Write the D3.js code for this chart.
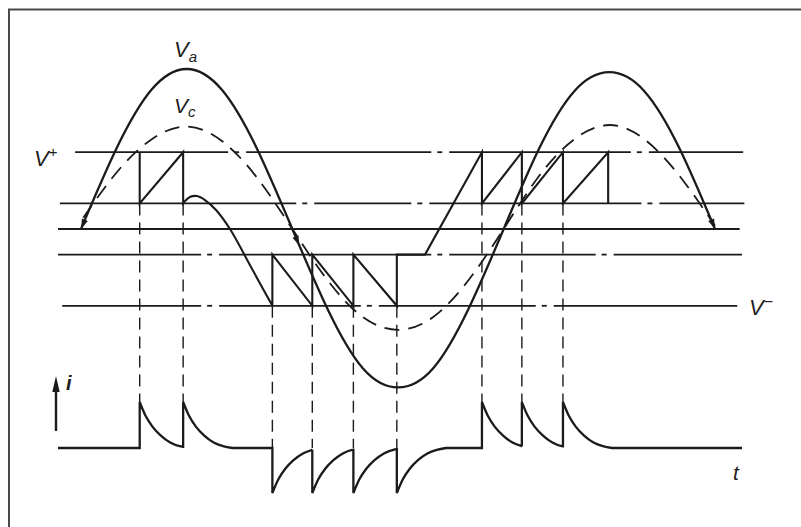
<!DOCTYPE html>
<html>
<head>
<meta charset="utf-8">
<script src="https://cdn.jsdelivr.net/npm/d3@7"></script>
<style>
  html, body { margin: 0; padding: 0; background: #fff; }
  svg { display: block; }
  text { font-family: "Liberation Sans", Arial, sans-serif; font-style: italic; fill: #1e1e1e; }
</style>
</head>
<body>
<svg id="chart" width="801" height="527"></svg>
<script>
// supply phase angle (deg), one sample every 30 deg
const phaseDeg = [0, 30, 60, 90, 120, 150, 180, 210, 240, 270, 300, 330, 360, 390, 420, 450, 480, 510, 540];
// supply voltage Va and capacitor voltage Vc (per unit of Va peak)
const vaValues = [0, 0.5, 0.87, 1, 0.87, 0.5, 0, -0.5, -0.87, -0.99, -0.87, -0.5, 0, 0.5, 0.86, 0.98, 0.86, 0.5, 0];
const vcValues = [0.05, 0.35, 0.56, 0.64, 0.55, 0.32, 0, -0.32, -0.55, -0.63, -0.55, -0.32, 0, 0.33, 0.56, 0.65, 0.56, 0.33, 0.02];

// band levels: V+, upper reset, zero, lower reset, V-
const levelValues = [0.48, 0.16, 0, -0.16, -0.48];

// switching instants (deg)
const upperSwitchA = [50, 87];
const lowerSwitch = [163, 197, 232, 269];
const riseStart = 293;
const upperSwitchB = [341.5, 375.5, 410.5, 449];

// bend of the waveform between the two bands
const bendT = [87, 92.8, 98.8, 105.6, 115, 126.9, 144.8, 163];
const bendV = [0.16, 0.2, 0.206, 0.181, 0.119, 0, -0.238, -0.48];

// current pulses (deg) and the decay shape of one pulse
const posPulses = [50, 87, 341.5, 375.5, 410.5];
const negPulses = [163, 197, 232, 269];
const pulseDt = [0, 5, 11, 18, 26, 34, 42];
const pulseFrac = [1, 0.7, 0.46, 0.27, 0.12, 0.04, 0];

const tStart = -19.6, tEnd = 563;

const ink = '#1b1b1b';
const svg = d3.select('#chart');

const x = d3.scaleLinear().domain([0, 540]).range([81, 715]);
const y = d3.scaleLinear().domain([-1, 1]).range([389, 69]);
const yi = d3.scaleLinear().domain([-1, 0, 1]).range([493, 448, 402]);

// frame
svg.append('path')
  .attr('d', 'M9,527V9.5H801')
  .attr('fill', 'none')
  .attr('stroke', '#4a4a4a')
  .attr('stroke-width', 2);

// band lines, broken by chain dots
const lineExtent = [[-5, 564], [-18, 565], [-19.6, 561], [-19.6, 563], [-16, 559]];
const lineBreaks = [[133, 306, 476], [191, 289, 485], [], [110, 306, 446], [110, 246, 395]];

levelValues.forEach((v, k) => {
  const x0 = x(lineExtent[k][0]), x1 = x(lineExtent[k][1]);
  const br = lineBreaks[k].map(x);
  let segs = [];
  let cur = x0;
  br.forEach(b => {
    segs.push([cur, b - 9]);
    segs.push([b - 3, b + 2]);
    cur = b + 9;
  });
  segs.push([cur, x1]);
  svg.append('g').selectAll('line')
    .data(segs)
    .enter().append('line')
    .attr('x1', d => d[0]).attr('x2', d => d[1])
    .attr('y1', y(v)).attr('y2', y(v))
    .attr('stroke', ink)
    .attr('stroke-width', 1.8);
});

const lin = d3.line().x(d => x(d[0])).y(d => y(d[1]));
const smooth = d3.line().x(d => x(d[0])).y(d => y(d[1])).curve(d3.curveNatural);
const bendLine = d3.line().x(d => x(d[0])).y(d => y(d[1])).curve(d3.curveCatmullRom.alpha(0.5));

// Va (solid) and Vc (dashed)
const vaPath = svg.append('path')
  .attr('d', smooth(phaseDeg.map((t, k) => [t, vaValues[k]])))
  .attr('fill', 'none')
  .attr('stroke', ink)
  .attr('stroke-width', 2.3);

svg.append('path')
  .attr('d', smooth(phaseDeg.map((t, k) => [t, vcValues[k]])))
  .attr('fill', 'none')
  .attr('stroke', ink)
  .attr('stroke-width', 1.8)
  .attr('stroke-dasharray', '15 9')
  .attr('stroke-dashoffset', -4);

// switching waveform
const hi = levelValues[0], hiLow = levelValues[1], loHigh = levelValues[3], lo = levelValues[4];
const partA = [];
upperSwitchA.forEach(t => { partA.push([t, hi]); partA.push([t, hiLow]); });
const bend = bendT.map((t, k) => [t, bendV[k]]);
const partB = [];
lowerSwitch.forEach(t => { partB.push([t, lo]); partB.push([t, loHigh]); });
partB.push([riseStart, loHigh]);
upperSwitchB.forEach(t => { partB.push([t, hi]); partB.push([t, hiLow]); });

svg.append('path')
  .attr('d', lin(partA) + bendLine(bend).replace(/^M/, 'L') + lin(partB).replace(/^M/, 'L'))
  .attr('fill', 'none')
  .attr('stroke', ink)
  .attr('stroke-width', 2.1);

// dashed projection lines
svg.append('g').selectAll('line')
  .data(posPulses)
  .enter().append('line')
  .attr('x1', d => x(d)).attr('x2', d => x(d))
  .attr('y1', y(hiLow)).attr('y2', yi(1))
  .attr('stroke', ink).attr('stroke-width', 1.4)
  .attr('stroke-dasharray', '12 7');

svg.append('g').selectAll('line')
  .data(negPulses)
  .enter().append('line')
  .attr('x1', d => x(d)).attr('x2', d => x(d))
  .attr('y1', y(lo)).attr('y2', yi(0))
  .attr('stroke', ink).attr('stroke-width', 1.4)
  .attr('stroke-dasharray', '12 7');

// current waveform
const iLine = d3.line().x(d => x(d[0])).y(d => yi(d[1])).curve(d3.curveMonotoneX);
const events = posPulses.map(t => [t, 1]).concat(negPulses.map(t => [t, -1]))
  .sort((a, b) => a[0] - b[0]);
let dI = `M${x(tStart)},${yi(0)}`;
let cur = 0;
events.forEach((ev, k) => {
  const [t0, s] = ev;
  const next = k < events.length - 1 ? events[k + 1][0] : tEnd;
  const pts = [];
  for (let j = 0; j < pulseDt.length; j++) {
    const tt = t0 + pulseDt[j];
    if (tt <= next) {
      pts.push([tt, s * pulseFrac[j]]);
    } else {
      const f0 = pulseFrac[j - 1], f1 = pulseFrac[j];
      const r = (next - t0 - pulseDt[j - 1]) / (pulseDt[j] - pulseDt[j - 1]);
      pts.push([next, s * (f0 + (f1 - f0) * r)]);
      break;
    }
  }
  dI += `L${x(t0)},${yi(cur)}`;
  dI += iLine(pts).replace(/^M/, 'L');
  const last = pts[pts.length - 1];
  cur = last[1];
  if (last[0] < next) dI += `L${x(next)},${yi(cur)}`;
});
svg.append('path')
  .attr('d', dI)
  .attr('fill', 'none')
  .attr('stroke', ink)
  .attr('stroke-width', 2.3);

// arrowheads on Va
function arrowAt(node, len, dir) {
  const p = node.getPointAtLength(len);
  const q = node.getPointAtLength(Math.max(0, Math.min(node.getTotalLength(), len - dir * 4)));
  const a = Math.atan2(p.y - q.y, p.x - q.x) * 180 / Math.PI;
  svg.append('polygon')
    .attr('points', '0,0 -10,-3.2 -10,3.2')
    .attr('transform', `translate(${p.x},${p.y}) rotate(${a})`)
    .attr('fill', ink);
}
const vaNode = vaPath.node();
const vaLen = vaNode.getTotalLength();
arrowAt(vaNode, 0, -1);
arrowAt(vaNode, vaLen, 1);
let midLen = 0;
for (let L = 0; L < vaLen; L += 0.5) {
  if (vaNode.getPointAtLength(L).x >= x(186)) { midLen = L; break; }
}
arrowAt(vaNode, midLen, 1);

// current axis arrow
svg.append('line')
  .attr('x1', 56).attr('x2', 56)
  .attr('y1', 431).attr('y2', 388)
  .attr('stroke', ink).attr('stroke-width', 2.4);
svg.append('polygon')
  .attr('points', '56,376 52.3,392 59.7,392')
  .attr('fill', ink);

// labels
const va = svg.append('text').attr('x', 174).attr('y', 57).attr('font-size', 22);
va.append('tspan').text('V');
va.append('tspan').attr('font-size', 15).attr('dy', 5).text('a');

const vc = svg.append('text').attr('x', 174).attr('y', 113).attr('font-size', 21);
vc.append('tspan').text('V');
vc.append('tspan').attr('font-size', 15).attr('dy', 4).text('c');

const vp = svg.append('text').attr('x', 34).attr('y', 166).attr('font-size', 22);
vp.append('tspan').text('V');
vp.append('tspan').attr('font-size', 15).attr('dy', -9).attr('font-style', 'normal').text('+');

const vm = svg.append('text').attr('x', 749).attr('y', 315).attr('font-size', 22);
vm.append('tspan').text('V');
vm.append('tspan').attr('font-size', 16).attr('dy', -8).attr('font-style', 'normal').text('−');

svg.append('text').attr('x', 66).attr('y', 390).attr('font-size', 20).attr('font-weight', 'bold').text('i');
svg.append('text').attr('x', 733).attr('y', 480).attr('font-size', 21).text('t');
</script>
</body>
</html>
